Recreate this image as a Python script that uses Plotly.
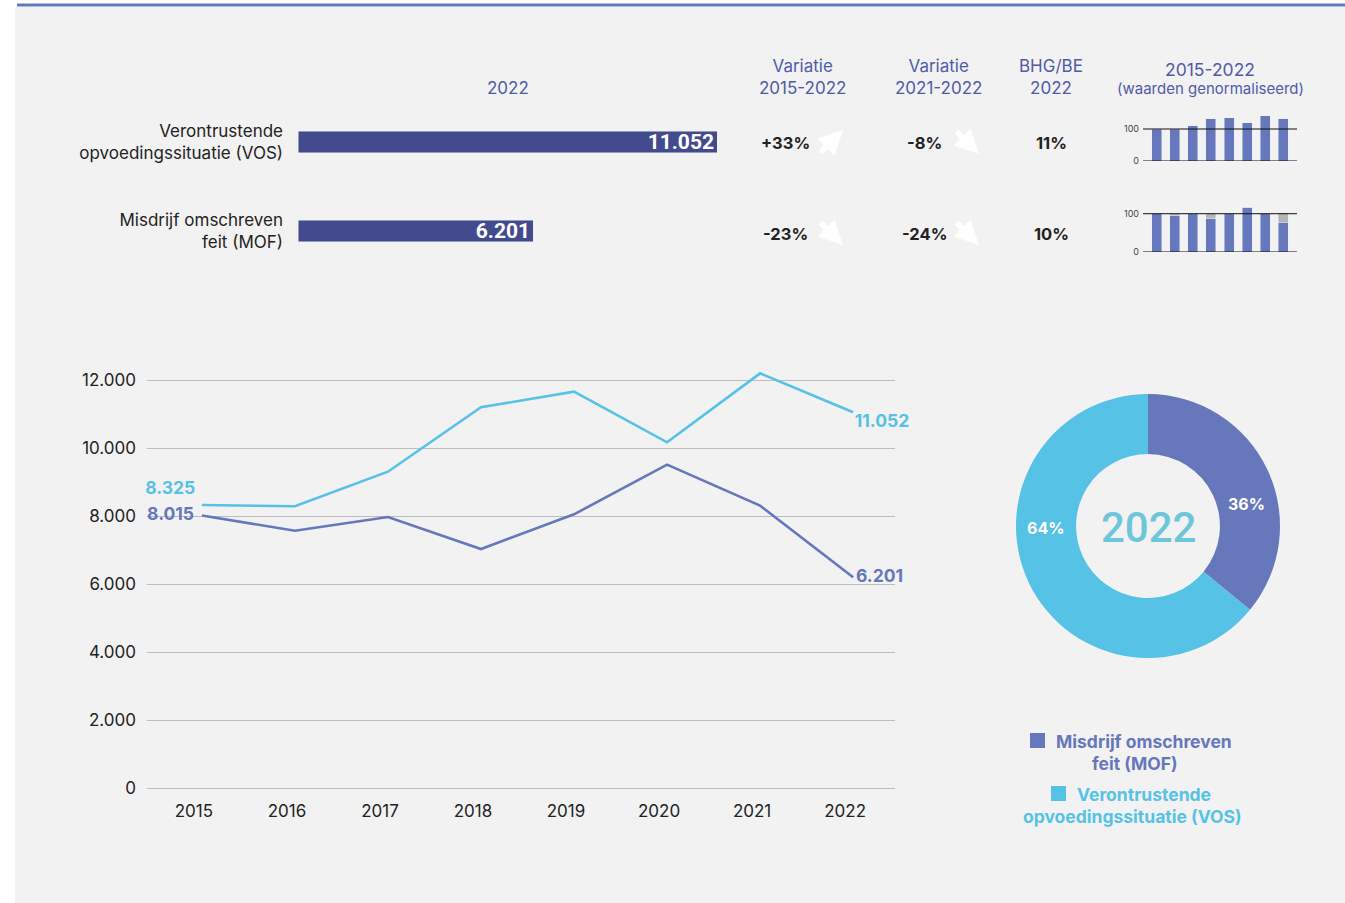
import plotly.graph_objects as go

W, H = 1345, 903
H_EFF = 893  # vertical extent the page is photographed at


def px(x):
    return x / W


def py(y):
    return 1 - y / H_EFF


# ---------------- data ----------------
categories = ["Verontrustende<br>opvoedingssituatie (VOS)", "Misdrijf omschreven<br>feit (MOF)"]
values_2022 = [11052, 6201]
var_2015_2022 = ["+33%", "-23%"]
var_2021_2022 = ["-8%", "-24%"]
bhg_be_2022 = ["11%", "10%"]

years = [2015, 2016, 2017, 2018, 2019, 2020, 2021, 2022]
vos = [8325, 8285, 9303, 11197, 11656, 10167, 12196, 11052]
mof = [8015, 7568, 7970, 7029, 8049, 9510, 8304, 6201]

vos_norm = [100, 100, 110, 132, 135, 120, 142, 132]
mof_norm = [100, 95, 100, 87, 100, 117, 100, 78]
mof_norm_grey = [0, 5, 0, 13, 0, 0, 0, 25]

donut_labels = ["Misdrijf omschreven feit (MOF)", "Verontrustende opvoedingssituatie (VOS)"]
donut_values = [6201, 11052]

# ---------------- styles ----------------
C_BAR = "#434B8E"
C_MOF = "#6677BB"
C_VOS = "#56C2E6"
C_HEAD = "#4F5BA8"
C_TXT = "#222222"
C_GREY = "#B5B5B5"
FONT = "Inter, Noto Sans, sans-serif"
NARROW = "Roboto, sans-serif"


def fmt(v):
    return f"{v:,}".replace(",", ".")


fig = go.Figure()

# ---- horizontal bars 2022 ----
fig.add_trace(go.Bar(
    x=values_2022, y=categories, orientation="h", marker_color=C_BAR,
    width=0.247, text=[fmt(v) for v in values_2022], textposition="inside",
    insidetextanchor="end", constraintext="none", textangle=0,
    textfont=dict(family=NARROW, size=21, color="white", weight="bold"),
    xaxis="x", yaxis="y", showlegend=False, hoverinfo="skip",
))

# ---- line chart ----
def edge_text(vals):
    return [fmt(v) if i in (0, len(vals) - 1) else "" for i, v in enumerate(vals)]


fig.add_trace(go.Scatter(
    x=years, y=vos, mode="lines+markers+text", line=dict(color=C_VOS, width=2.6),
    marker=dict(size=[9, 0, 0, 0, 0, 0, 0, 1], color="rgba(0,0,0,0)", opacity=0,
                line=dict(width=0)),
    text=edge_text(vos),
    textposition=["top left"] + ["top center"] * 6 + ["bottom right"],
    textfont=dict(family=FONT, size=17.5, color=C_VOS, weight="bold"),
    cliponaxis=False, xaxis="x2", yaxis="y2", showlegend=False,
))
fig.add_trace(go.Scatter(
    x=years, y=mof, mode="lines+markers+text", line=dict(color=C_MOF, width=2.6),
    marker=dict(size=[11, 0, 0, 0, 0, 0, 0, 3], color="rgba(0,0,0,0)", opacity=0,
                line=dict(width=0)),
    text=edge_text(mof),
    textposition=["middle left"] + ["top center"] * 6 + ["middle right"],
    textfont=dict(family=FONT, size=17.5, color=C_MOF, weight="bold"),
    cliponaxis=False, xaxis="x2", yaxis="y2", showlegend=False,
))

# ---- sparklines ----
fig.add_trace(go.Bar(x=years, y=vos_norm, marker_color=C_MOF, width=0.55,
                     xaxis="x3", yaxis="y3", showlegend=False))
fig.add_trace(go.Bar(x=years, y=mof_norm, marker_color=C_MOF, width=0.55,
                     xaxis="x4", yaxis="y4", showlegend=False))
fig.add_trace(go.Bar(x=years, y=mof_norm_grey, marker_color=C_GREY, width=0.55,
                     xaxis="x4", yaxis="y4", showlegend=False))

# ---- donut ----
fig.add_trace(go.Pie(
    labels=donut_labels, values=donut_values, hole=0.545,
    domain=dict(x=[px(1016), px(1280)], y=[py(658), py(394)]),
    direction="clockwise", sort=False, rotation=0,
    marker=dict(colors=[C_MOF, C_VOS], line=dict(width=0)),
    textinfo="none", showlegend=False,
))

# ---------------- layout ----------------
shapes = [
    dict(type="rect", xref="paper", yref="paper", x0=px(15), x1=1, y0=-0.05, y1=py(7),
         fillcolor="#F2F2F2", line_width=0, layer="below"),
    dict(type="line", xref="paper", yref="paper", x0=px(17), x1=1, y0=py(5), y1=py(5),
         line=dict(color=C_MOF, width=3), layer="below"),
    dict(type="line", xref="x3 domain", yref="y3", x0=0, x1=1, y0=0, y1=0,
         line=dict(color="#111", width=1), layer="above"),
    dict(type="line", xref="x3 domain", yref="y3", x0=0, x1=1, y0=100, y1=100,
         line=dict(color="#111", width=1), layer="above"),
    dict(type="line", xref="x4 domain", yref="y4", x0=0, x1=1, y0=0, y1=0,
         line=dict(color="#111", width=1), layer="above"),
    dict(type="line", xref="x4 domain", yref="y4", x0=0, x1=1, y0=100, y1=100,
         line=dict(color="#111", width=1), layer="above"),
    dict(type="rect", xref="paper", yref="paper", x0=px(1030), x1=px(1045),
         y0=py(748), y1=py(733), fillcolor=C_MOF, line_width=0),
    dict(type="rect", xref="paper", yref="paper", x0=px(1051), x1=px(1066),
         y0=py(801), y1=py(786), fillcolor=C_VOS, line_width=0),
]

ann = []


def text(x, y, t, size=16, color=C_TXT, weight="normal", family=FONT, align="center"):
    ann.append(dict(x=px(x), y=py(y), xref="paper", yref="paper", text=t, showarrow=False,
                    xanchor="center", yanchor="middle", align=align,
                    font=dict(family=family, size=size, color=color, weight=weight)))


# headers
text(508, 88, "2022", size=17, color=C_HEAD)
text(802, 77, "Variatie<br>2015-2022", size=17, color=C_HEAD)
text(938, 77, "Variatie<br>2021-2022", size=17, color=C_HEAD)
text(1051, 77, "BHG/BE<br>2022", size=17, color=C_HEAD)
text(1210, 69, "2015-2022", size=17.5, color=C_HEAD)
text(1210, 89, "(waarden genormaliseerd)", size=15, color=C_HEAD)

# row values + arrows
row_y = [143, 234]
for i, yy in enumerate(row_y):
    text(785, yy, var_2015_2022[i], size=16.5, weight="bold")
    text(924, yy, var_2021_2022[i], size=16.5, weight="bold")
    text(1051, yy, bhg_be_2022[i], size=16.5, weight="bold")
    for col_x, v in ((831, var_2015_2022[i]), (967, var_2021_2022[i])):
        up = v.startswith("+")
        hx, hy = col_x + 12, (yy - 13) if up else (yy + 11)
        ann.append(dict(x=px(hx), y=py(hy), xref="paper", yref="paper", text="",
                        showarrow=True, axref="pixel", ayref="pixel",
                        ax=-24, ay=24 if up else -24, arrowhead=2, arrowsize=0.8,
                        arrowwidth=6, arrowcolor="white", standoff=0, startstandoff=0))

# donut centre + percentages
text(1148, 527, "2022", size=42, color="#6EC6DA", weight=500, family=NARROW)
total = sum(donut_values)
for (lx, ly), v in zip(((1246, 504), (1045, 528)), donut_values):
    text(lx, ly, f"{round(100 * v / total)}%", size=16, color="white", weight="bold")

# legend (one annotation per line, centred like the reference)
text(1144, 741, "Misdrijf omschreven", size=17.5, color=C_MOF, weight="bold")
text(1135, 763, "feit (MOF)", size=17.5, color=C_MOF, weight="bold")
text(1144, 794, "Verontrustende", size=17.5, color=C_VOS, weight="bold")
text(1132, 816, "opvoedingssituatie (VOS)", size=17.5, color=C_VOS, weight="bold")

fig.update_layout(
    width=W, height=H, margin=dict(l=0, r=0, t=0, b=0), autosize=False,
    paper_bgcolor="white", plot_bgcolor="rgba(0,0,0,0)",
    separators=",.", barmode="stack", font=dict(family=FONT, color=C_TXT),
    shapes=shapes, annotations=ann,
    xaxis=dict(domain=[px(298), px(717)], range=[0, values_2022[0]], visible=False),
    yaxis=dict(domain=[py(275.5), py(97.5)], range=[1.5, -0.5], showgrid=False,
               zeroline=False, showline=False, ticks="", ticklabelstandoff=14,
               tickfont=dict(family=FONT, size=17, color=C_TXT), anchor="x"),
    xaxis2=dict(domain=[px(147), px(895)], range=[2014.41, 2022.45], anchor="y2",
                tickvals=years, ticktext=[str(y) for y in years], showgrid=False,
                zeroline=False, showline=False, ticks="", ticklabelstandoff=11,
                ticklabelshift=-8, tickfont=dict(family=FONT, size=17, color=C_TXT)),
    yaxis2=dict(domain=[py(788), py(363)], range=[0, 12500], anchor="x2",
                tickvals=[0, 2000, 4000, 6000, 8000, 10000, 12000], tickformat=",",
                showgrid=True, gridcolor="#BDBDBD", gridwidth=1.3,
                zeroline=True, zerolinecolor="#BDBDBD", zerolinewidth=1.3,
                showline=False, ticks="", ticklabelstandoff=10,
                tickfont=dict(family=FONT, size=17, color=C_TXT)),
    xaxis3=dict(domain=[px(1143), px(1297)], range=[2014.25, 2022.75], anchor="y3",
                visible=False),
    yaxis3=dict(domain=[py(161), py(113)], range=[0, 150], anchor="x3",
                tickvals=[0, 100], showgrid=False, zeroline=False, showline=False,
                ticks="", ticklabelstandoff=3,
                tickfont=dict(family=FONT, size=9, color="#444")),
    xaxis4=dict(domain=[px(1143), px(1297)], range=[2014.25, 2022.75], anchor="y4",
                visible=False),
    yaxis4=dict(domain=[py(252), py(198.4)], range=[0, 140], anchor="x4",
                tickvals=[0, 100], showgrid=False, zeroline=False, showline=False,
                ticks="", ticklabelstandoff=3,
                tickfont=dict(family=FONT, size=9, color="#444")),
)

post = (
    "document.documentElement.style.margin='0';"
    "document.body.style.margin='0';"
)
fig.write_html("out.html", config={"displayModeBar": False}, post_script=post)
